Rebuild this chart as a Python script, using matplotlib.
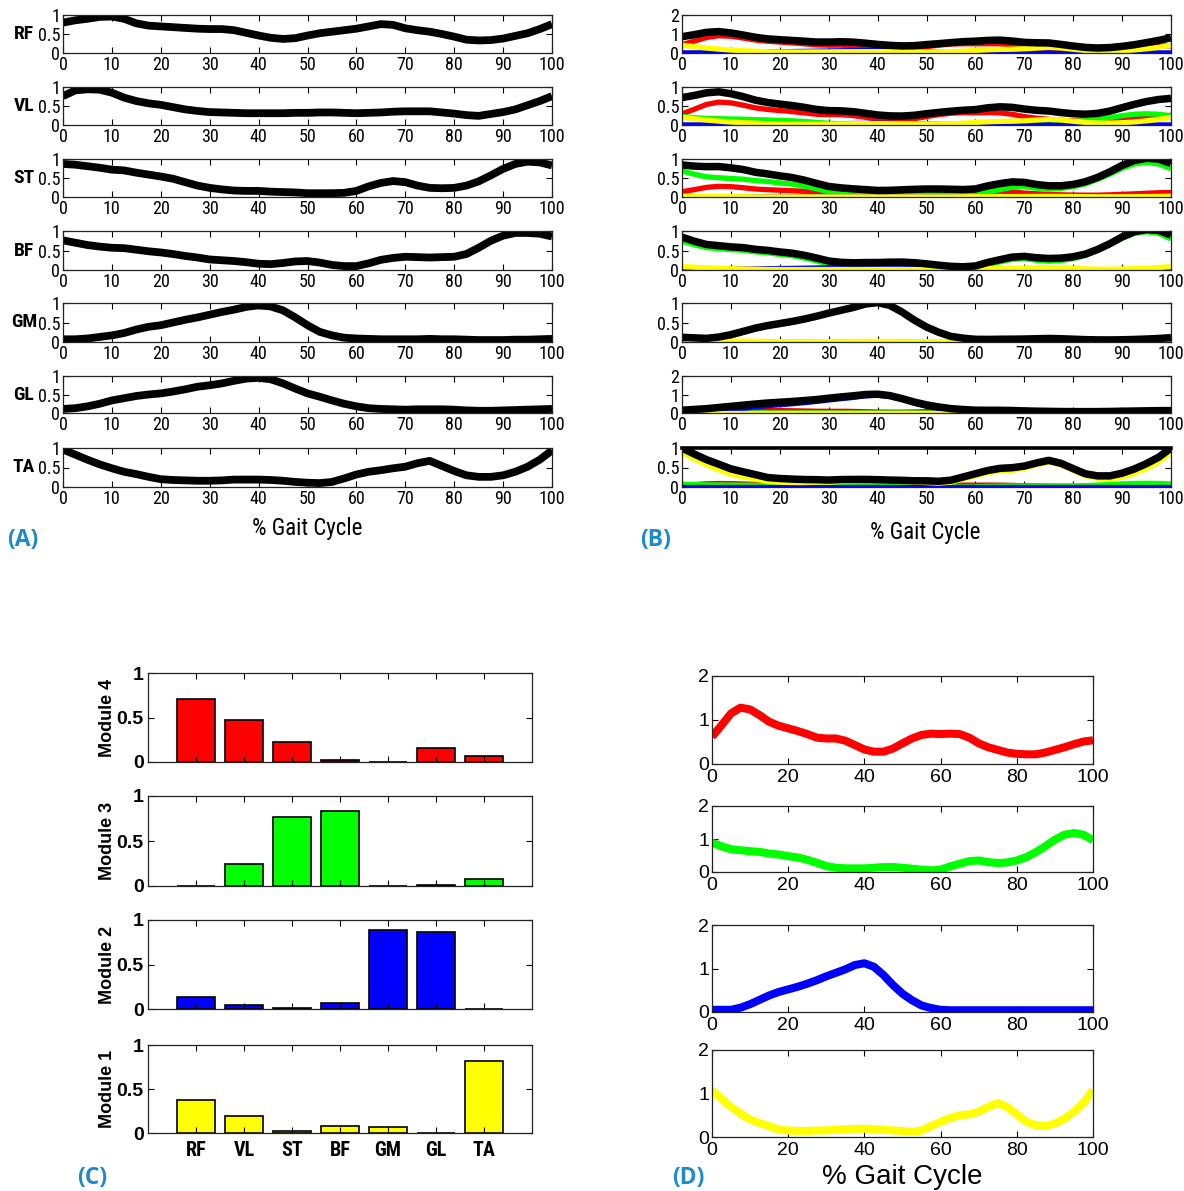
import numpy as np
import matplotlib
matplotlib.use("Agg")
import matplotlib.pyplot as plt
from matplotlib import font_manager

# ---------------------------------------------------------------- data
muscles = ["RF", "VL", "ST", "BF", "GM", "GL", "TA"]
gait = np.linspace(0, 100, 41)          # % gait cycle, 2.5 % steps

# (A) normalised EMG envelopes
emg_rf = [0.80, 0.86, 0.90, 0.95, 0.96, 0.90, 0.78, 0.72, 0.70, 0.68, 0.66, 0.64, 0.63, 0.63,
          0.60, 0.53, 0.46, 0.40, 0.37, 0.39, 0.46, 0.52, 0.56, 0.60, 0.64, 0.70, 0.76, 0.74,
          0.65, 0.60, 0.56, 0.50, 0.43, 0.35, 0.33, 0.34, 0.38, 0.45, 0.52, 0.63, 0.76]
emg_vl = [0.76, 0.91, 0.94, 0.93, 0.85, 0.72, 0.63, 0.57, 0.53, 0.47, 0.41, 0.37, 0.34, 0.33,
          0.32, 0.31, 0.31, 0.31, 0.31, 0.32, 0.32, 0.33, 0.33, 0.32, 0.31, 0.32, 0.33, 0.35,
          0.36, 0.36, 0.36, 0.33, 0.30, 0.26, 0.24, 0.29, 0.34, 0.41, 0.52, 0.63, 0.76]
emg_st = [0.87, 0.85, 0.81, 0.77, 0.72, 0.70, 0.64, 0.59, 0.54, 0.48, 0.39, 0.30, 0.24, 0.20,
          0.17, 0.16, 0.16, 0.14, 0.13, 0.12, 0.10, 0.10, 0.10, 0.11, 0.16, 0.28, 0.37, 0.42,
          0.39, 0.30, 0.24, 0.23, 0.24, 0.30, 0.41, 0.57, 0.74, 0.87, 0.93, 0.91, 0.83]
emg_bf = [0.76, 0.70, 0.64, 0.60, 0.57, 0.56, 0.52, 0.48, 0.45, 0.41, 0.36, 0.32, 0.27, 0.25,
          0.23, 0.20, 0.16, 0.15, 0.18, 0.22, 0.23, 0.19, 0.13, 0.10, 0.10, 0.17, 0.26, 0.31,
          0.34, 0.33, 0.32, 0.33, 0.34, 0.41, 0.57, 0.75, 0.88, 0.95, 0.95, 0.93, 0.86]
emg_gm = [0.07, 0.07, 0.09, 0.13, 0.17, 0.23, 0.32, 0.39, 0.43, 0.50, 0.57, 0.63, 0.70, 0.77,
          0.83, 0.90, 0.94, 0.91, 0.81, 0.63, 0.43, 0.26, 0.17, 0.11, 0.09, 0.08, 0.07, 0.07,
          0.07, 0.07, 0.08, 0.07, 0.07, 0.06, 0.05, 0.05, 0.05, 0.06, 0.06, 0.07, 0.08]
emg_gl = [0.11, 0.13, 0.18, 0.25, 0.34, 0.40, 0.46, 0.50, 0.53, 0.58, 0.64, 0.71, 0.75, 0.80,
          0.87, 0.93, 0.95, 0.91, 0.80, 0.66, 0.53, 0.44, 0.34, 0.25, 0.18, 0.13, 0.11, 0.10,
          0.09, 0.10, 0.10, 0.10, 0.09, 0.07, 0.06, 0.06, 0.07, 0.08, 0.09, 0.10, 0.11]
emg_ta = [0.96, 0.83, 0.70, 0.58, 0.48, 0.39, 0.33, 0.26, 0.20, 0.18, 0.17, 0.16, 0.16, 0.17,
          0.19, 0.19, 0.19, 0.18, 0.16, 0.13, 0.11, 0.10, 0.13, 0.22, 0.32, 0.39, 0.43, 0.48,
          0.52, 0.61, 0.67, 0.54, 0.41, 0.30, 0.26, 0.26, 0.30, 0.39, 0.52, 0.70, 0.94]
emg = [emg_rf, emg_vl, emg_st, emg_bf, emg_gm, emg_gl, emg_ta]

# (C) muscle weightings of each module (RF, VL, ST, BF, GM, GL, TA)
w_module4 = [0.71, 0.47, 0.22, 0.02, 0.00, 0.16, 0.07]
w_module3 = [0.00, 0.25, 0.77, 0.83, 0.00, 0.01, 0.08]
w_module2 = [0.13, 0.04, 0.01, 0.07, 0.89, 0.86, 0.00]
w_module1 = [0.38, 0.19, 0.02, 0.08, 0.07, 0.00, 0.82]

# (D) module activation profiles
act_module4 = [0.62, 0.88, 1.15, 1.28, 1.24, 1.11, 0.96, 0.87, 0.81, 0.75, 0.68, 0.60, 0.58, 0.58,
               0.53, 0.43, 0.33, 0.28, 0.28, 0.35, 0.47, 0.58, 0.66, 0.69, 0.68, 0.69, 0.68, 0.60,
               0.47, 0.38, 0.32, 0.26, 0.23, 0.22, 0.22, 0.26, 0.32, 0.38, 0.45, 0.51, 0.54]
act_module3 = [0.89, 0.78, 0.69, 0.66, 0.63, 0.61, 0.56, 0.53, 0.48, 0.44, 0.37, 0.28, 0.18, 0.13,
               0.11, 0.11, 0.11, 0.13, 0.15, 0.15, 0.13, 0.10, 0.07, 0.05, 0.07, 0.17, 0.25, 0.33,
               0.35, 0.30, 0.27, 0.29, 0.35, 0.45, 0.60, 0.78, 0.98, 1.13, 1.18, 1.13, 0.96]
act_module2 = [0.05, 0.05, 0.05, 0.10, 0.18, 0.28, 0.38, 0.46, 0.52, 0.58, 0.65, 0.73, 0.82, 0.90,
               0.98, 1.08, 1.12, 1.04, 0.85, 0.62, 0.42, 0.27, 0.15, 0.09, 0.05, 0.04, 0.04, 0.04,
               0.04, 0.04, 0.04, 0.04, 0.04, 0.04, 0.04, 0.04, 0.04, 0.04, 0.04, 0.04, 0.04]
act_module1 = [1.08, 0.88, 0.69, 0.54, 0.40, 0.32, 0.25, 0.17, 0.15, 0.14, 0.14, 0.15, 0.15, 0.17,
               0.18, 0.19, 0.19, 0.18, 0.17, 0.15, 0.14, 0.12, 0.15, 0.25, 0.35, 0.44, 0.50, 0.52,
               0.58, 0.69, 0.78, 0.69, 0.52, 0.35, 0.27, 0.25, 0.31, 0.42, 0.58, 0.78, 1.08]

module_names = ["Module 4", "Module 3", "Module 2", "Module 1"]
module_colors = ["#ff0000", "#00ff00", "#0000ff", "#ffff00"]
weights = [w_module4, w_module3, w_module2, w_module1]
activations = [act_module4, act_module3, act_module2, act_module1]


# ---------------------------------------------------------------- fonts
def pick_narrow_font():
    entries = font_manager.fontManager.ttflist
    names = {f.name for f in entries}
    for pref in ["Liberation Sans Narrow", "Arial Narrow", "Roboto Condensed",
                 "Noto Sans Condensed", "Open Sans Condensed", "DejaVu Sans Condensed"]:
        if pref in names:
            return pref, "normal"
    for f in entries:
        if "Narrow" in f.name or "Condensed" in f.name:
            return f.name, "normal"
    for f in entries:
        if str(f.stretch) in ("condensed", "semi-condensed", "extra-condensed",
                              "ultra-condensed"):
            return f.name, str(f.stretch)
    return "Liberation Sans", "normal"


NARROW, NARROW_STRETCH = pick_narrow_font()
ARIAL = "Liberation Sans"
LETTER = "Open Sans"
LETTER_COLOR = "#1f8ac9"

W, H = 1184, 1191
fig = plt.figure(figsize=(W / 100, H / 100), dpi=100)


def px_axes(left, top, right, bottom):
    return fig.add_axes([left / W, 1 - bottom / H, (right - left) / W, (bottom - top) / H])


def style(ax, family, size, weight="normal", stretch="normal", length=4, pad=2):
    ax.tick_params(direction="in", top=True, right=True, length=length, width=0.8,
                   pad=pad, labelsize=size)
    for lab in ax.get_xticklabels() + ax.get_yticklabels():
        lab.set_fontfamily(family)
        lab.set_fontweight(weight)
        lab.set_fontstretch(stretch)
    for s in ax.spines.values():
        s.set_linewidth(0.9)
        s.set_color("#222222")


def fmt(v):
    return "%g" % v


rows = [(15, 53), (87, 125), (159, 197), (231, 270), (303, 342), (376, 413), (448, 487)]

# ---------------------------------------------------------------- (A)
for i, name in enumerate(muscles):
    top, bot = rows[i]
    ax = px_axes(63, top, 552, bot)
    ax.plot(gait, emg[i], color="black", lw=5.6, solid_capstyle="butt", solid_joinstyle="round")
    ax.set_xlim(0, 100)
    ax.set_ylim(0, 1)
    ax.set_xticks(range(0, 101, 10))
    ax.set_yticks([0, 0.5, 1])
    ax.set_yticklabels([fmt(v) for v in [0, 0.5, 1]])
    style(ax, NARROW, 13, stretch=NARROW_STRETCH, pad=2)
    fig.text(24 / W, 1 - (top + bot) / 2 / H, name, ha="center", va="center",
             fontsize=14, fontweight="bold", family=NARROW, fontstretch=NARROW_STRETCH)

fig.text(307 / W, 1 - 528 / H, "% Gait Cycle", ha="center", va="center",
         fontsize=16.5, family=NARROW, fontstretch=NARROW_STRETCH)

# ---------------------------------------------------------------- (B)
b_ylim = [2, 1, 1, 1, 1, 2, 1]
draw_order = [0, 1, 2, 3]            # red, green, blue, yellow underneath the total
for i, name in enumerate(muscles):
    top, bot = rows[i]
    ax = px_axes(682, top, 1171, bot)
    total = np.zeros_like(gait)
    for m in range(4):
        total = total + weights[m][i] * np.asarray(activations[m])
    for m in draw_order:
        ax.plot(gait, weights[m][i] * np.asarray(activations[m]), color=module_colors[m],
                lw=3.8, solid_capstyle="butt")
    ax.plot(gait, total, color="black", lw=5.4, solid_capstyle="butt", solid_joinstyle="round")
    ax.set_xlim(0, 100)
    ax.set_ylim(0, b_ylim[i])
    ax.set_xticks(range(0, 101, 10))
    if b_ylim[i] == 2:
        ax.set_yticks([0, 1, 2])
    else:
        ax.set_yticks([0, 0.5, 1])
        ax.set_yticklabels([fmt(v) for v in [0, 0.5, 1]])
    style(ax, NARROW, 13, stretch=NARROW_STRETCH, pad=2)
    if name == "TA":
        ax.spines["top"].set_linewidth(2.6)
        ax.spines["top"].set_color("black")

fig.text(925 / W, 1 - 533 / H, "% Gait Cycle", ha="center", va="center",
         fontsize=16.5, family=NARROW, fontstretch=NARROW_STRETCH)

# ---------------------------------------------------------------- (C)
c_rows = [(673, 762), (796, 886), (920, 1009), (1045, 1133)]
positions = np.arange(1, len(muscles) + 1)
for m in range(4):
    top, bot = c_rows[m]
    ax = px_axes(148, top, 532, bot)
    ax.bar(positions, weights[m], width=0.8, color=module_colors[m], edgecolor="black",
           linewidth=1.2)
    ax.set_xlim(0, 8)
    ax.set_ylim(0, 1)
    ax.set_xticks(positions)
    ax.set_yticks([0, 0.5, 1])
    ax.set_yticklabels([fmt(v) for v in [0, 0.5, 1]])
    if m == 3:
        ax.set_xticklabels(muscles)
    else:
        ax.set_xticklabels([])
    style(ax, ARIAL, 14, weight="bold", length=4, pad=3)
    for lab in ax.get_xticklabels():
        lab.set_fontfamily(NARROW)
        lab.set_fontstretch(NARROW_STRETCH)
        lab.set_fontsize(14.5)
    ax.tick_params(axis="x", pad=6)
    fig.text(107 / W, 1 - (top + bot) / 2 / H, module_names[m], rotation=90, ha="center",
             va="center", fontsize=13, fontweight="bold", family=ARIAL)

# ---------------------------------------------------------------- (D)
d_rows = [(676, 764), (806, 872), (925, 1012), (1050, 1137)]
for m in range(4):
    top, bot = d_rows[m]
    ax = px_axes(712, top, 1093, bot)
    ax.plot(gait, activations[m], color=module_colors[m], lw=5.8, solid_capstyle="butt",
            solid_joinstyle="round")
    ax.set_xlim(0, 100)
    ax.set_ylim(0, 2)
    ax.set_xticks(range(0, 101, 20))
    ax.set_yticks([0, 1, 2])
    style(ax, ARIAL, 14, length=4, pad=2)
    ax.tick_params(axis="x", pad=3.5)

fig.text(902 / W, 1 - 1177 / H, "% Gait Cycle", ha="center", va="center",
         fontsize=20, family=ARIAL)

# ---------------------------------------------------------------- panel letters
for label, x, y in [("(A)", 23, 540), ("(B)", 656, 540), ("(C)", 92, 1178), ("(D)", 688, 1178)]:
    fig.text(x / W, 1 - y / H, label, ha="center", va="center", fontsize=16.5,
             fontweight="bold", family=LETTER, color=LETTER_COLOR)

fig.savefig("out.png", dpi=100)
